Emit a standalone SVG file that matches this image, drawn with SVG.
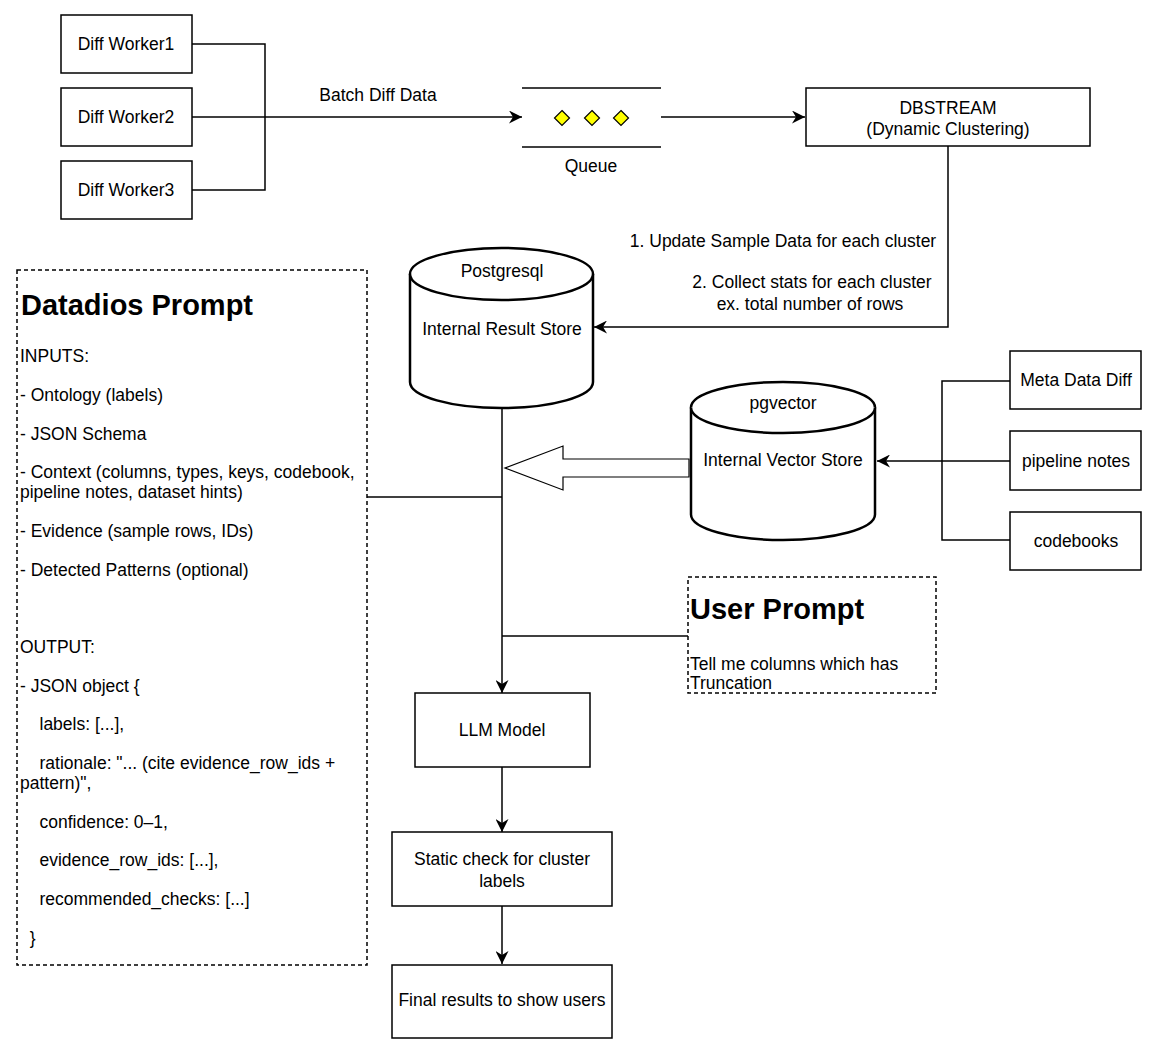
<svg xmlns="http://www.w3.org/2000/svg" width="1159" height="1054" viewBox="0 0 1159 1054">
<style>
text{font-family:"Liberation Sans",Arial,sans-serif;font-size:17.5px;fill:#000}
.c{text-anchor:middle}
.t{font-size:29px;font-weight:bold}
.box{fill:#fff;stroke:#000;stroke-width:1.5}
.cyl{fill:#fff;stroke:#000;stroke-width:2.5}
.dash{fill:#fff;stroke:#000;stroke-width:1.5;stroke-dasharray:4 3}
.ln{fill:none;stroke:#000;stroke-width:1.5}
.dia{fill:#ffff00;stroke:#000;stroke-width:1.2}
</style>
<defs>
<marker id="arr" markerUnits="userSpaceOnUse" markerWidth="15" markerHeight="13" refX="13" refY="6.5" orient="auto">
<path d="M0,0 L13,6.5 L0,13 L4,6.5 Z" fill="#000"/>
</marker>
</defs>
<rect width="1159" height="1054" fill="#fff"/>
<g id="connectors">
<polyline class="ln" points="192,44 265,44 265,190 192,190"/>
<line class="ln" x1="192" y1="117" x2="522" y2="117" marker-end="url(#arr)"/>
<line class="ln" x1="661" y1="117" x2="805" y2="117" marker-end="url(#arr)"/>
<polyline class="ln" points="948,146 948,327 594,327" marker-end="url(#arr)"/>
<polyline class="ln" points="1010,381 942,381 942,540 1010,540"/>
<line class="ln" x1="1010" y1="461" x2="877" y2="461" marker-end="url(#arr)"/>
<line class="ln" x1="502" y1="408" x2="502" y2="693" stroke-width="2" marker-end="url(#arr)"/>
<line class="ln" x1="367" y1="497" x2="502" y2="497"/>
<line class="ln" x1="688" y1="636" x2="502" y2="636"/>
<line class="ln" x1="502" y1="767" x2="502" y2="832" marker-end="url(#arr)"/>
<line class="ln" x1="502" y1="906" x2="502" y2="964" marker-end="url(#arr)"/>
<polygon points="689,459 563,459 563,446 505,468 563,490 563,477 689,477" fill="#fff" stroke="#000" stroke-width="1.2"/>
<text class="c" x="378" y="101">Batch Diff Data</text>
<text class="c" x="783" y="247">1. Update Sample Data for each cluster</text>
<text class="c" x="812" y="288">2. Collect stats for each cluster</text>
<text class="c" x="810" y="310">ex. total number of rows</text>
</g>
<g id="worker1"><rect class="box" x="61" y="15" width="131" height="58"/><text class="c" x="126" y="50">Diff Worker1</text></g>
<g id="worker2"><rect class="box" x="61" y="88" width="131" height="58"/><text class="c" x="126" y="123">Diff Worker2</text></g>
<g id="worker3"><rect class="box" x="61" y="161" width="131" height="58"/><text class="c" x="126" y="196">Diff Worker3</text></g>
<g id="queue">
<line class="ln" x1="522" y1="88" x2="661" y2="88"/>
<line class="ln" x1="522" y1="147" x2="661" y2="147"/>
<polygon class="dia" points="562,110.5 569.5,118 562,125.5 554.5,118"/>
<polygon class="dia" points="592,110.5 599.5,118 592,125.5 584.5,118"/>
<polygon class="dia" points="621,110.5 628.5,118 621,125.5 613.5,118"/>
<text class="c" x="591" y="172">Queue</text>
</g>
<g id="dbstream"><rect class="box" x="806" y="88" width="284" height="58"/><text class="c" x="948" y="114">DBSTREAM</text><text class="c" x="948" y="135">(Dynamic Clustering)</text></g>
<g id="postgresql">
<path class="cyl" d="M410,274 A91.5,26 0 0 1 593,274 L593,382 A91.5,26 0 0 1 410,382 Z"/>
<path class="cyl" d="M410,274 A91.5,26 0 0 0 593,274" fill="none"/>
<text class="c" x="502" y="277">Postgresql</text>
<text class="c" x="502" y="335">Internal Result Store</text>
</g>
<g id="pgvector">
<path class="cyl" d="M691,407.5 A92,25.5 0 0 1 875,407.5 L875,514.5 A92,25.5 0 0 1 691,514.5 Z"/>
<path class="cyl" d="M691,407.5 A92,25.5 0 0 0 875,407.5" fill="none"/>
<text class="c" x="783" y="409">pgvector</text>
<text class="c" x="783" y="466">Internal Vector Store</text>
</g>
<g id="metadatadiff"><rect class="box" x="1010" y="351" width="131" height="58"/><text class="c" x="1076" y="386">Meta Data Diff</text></g>
<g id="pipelinenotes"><rect class="box" x="1010" y="431" width="131" height="59"/><text class="c" x="1076" y="467">pipeline notes</text></g>
<g id="codebooks"><rect class="box" x="1010" y="512" width="131" height="58"/><text class="c" x="1076" y="547">codebooks</text></g>
<g id="datadios">
<rect class="dash" x="17" y="270" width="350" height="695"/>
<text class="t" x="21" y="315">Datadios Prompt</text>
<text x="20" y="362">INPUTS:</text>
<text x="20" y="401">- Ontology (labels)</text>
<text x="20" y="440">- JSON Schema</text>
<text x="20" y="478">- Context (columns, types, keys, codebook,</text>
<text x="20" y="498">pipeline notes, dataset hints)</text>
<text x="20" y="537">- Evidence (sample rows, IDs)</text>
<text x="20" y="576">- Detected Patterns (optional)</text>
<text x="20" y="653">OUTPUT:</text>
<text x="20" y="692">- JSON object {</text>
<text x="39.5" y="730">labels: [...],</text>
<text x="39.5" y="769">rationale: "... (cite evidence_row_ids +</text>
<text x="20" y="789">pattern)",</text>
<text x="39.5" y="828">confidence: 0–1,</text>
<text x="39.5" y="866">evidence_row_ids: [...],</text>
<text x="39.5" y="905">recommended_checks: [...]</text>
<text x="29.7" y="944">}</text>
</g>
<g id="userprompt">
<rect class="dash" x="688" y="577" width="248" height="116"/>
<text class="t" x="690" y="619">User Prompt</text>
<text x="690" y="670">Tell me columns which has</text>
<text x="690" y="689">Truncation</text>
</g>
<g id="llm"><rect class="box" x="415" y="693" width="175" height="74"/><text class="c" x="502" y="736">LLM Model</text></g>
<g id="staticcheck"><rect class="box" x="392" y="832" width="220" height="74"/><text class="c" x="502" y="865">Static check for cluster</text><text class="c" x="502" y="887">labels</text></g>
<g id="final"><rect class="box" x="392" y="965" width="220" height="73"/><text class="c" x="502" y="1006">Final results to show users</text></g>
</svg>
